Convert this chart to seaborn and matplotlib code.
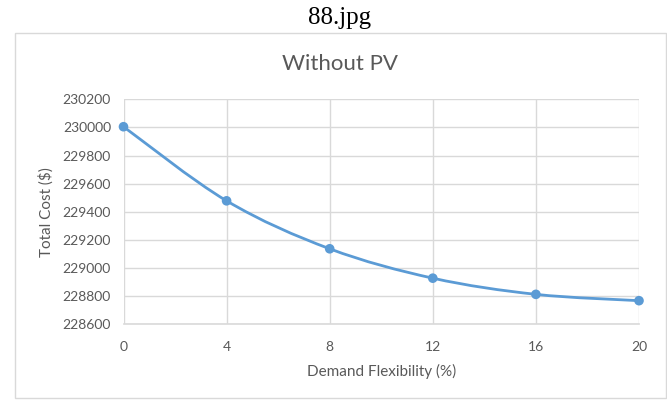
import numpy as np
import pandas as pd
import seaborn as sns
import matplotlib
matplotlib.use("Agg")
import matplotlib.pyplot as plt
from matplotlib.path import Path
from matplotlib.patches import PathPatch, Rectangle

# ---- data ----
flexibility = [0, 4, 8, 12, 16, 20]
total_cost = [230005, 229478, 229137, 228928, 228813, 228768]
y_ticks = [228600, 228800, 229000, 229200, 229400, 229600, 229800, 230000, 230200]
x_ticks = [0, 4, 8, 12, 16, 20]
file_title = "88.jpg"
chart_title = "Without PV"
x_label = "Demand Flexibility (%)"
y_label = "Total Cost ($)"

df = pd.DataFrame({"x": flexibility, "y": total_cost})

sns.set_theme(style="white")
plt.rcParams["font.family"] = ["Lato", "DejaVu Sans"]

W, H = 667, 401
fig = plt.figure(figsize=(W / 100, H / 100), dpi=100)
fig.patch.set_facecolor("white")

# outer chart frame
fig.patches.append(Rectangle((15 / W, 1 - 398 / H), (666 - 15) / W, (398 - 33) / H,
                             transform=fig.transFigure, fill=False,
                             edgecolor="#D9D9D9", linewidth=1.0))
fig.text(340 / W, 1 - 18 / H, file_title, ha="center", va="center",
         fontsize=18, family=["Liberation Serif", "DejaVu Serif"], color="black")
fig.text(340 / W, 1 - 64 / H, chart_title, ha="center", va="center",
         fontsize=16, color="#595959")

left, right, top, bottom = 123.5, 639, 99.3, 324.3
ax = fig.add_axes([left / W, 1 - bottom / H, (right - left) / W, (bottom - top) / H])

line_color = "#5B9BD5"
grey = "#595959"
grid_c = "#D9D9D9"

# smoothed connecting line (Catmull-Rom style bezier, like Excel's smoothed line)
xs = np.array(df["x"], dtype=float)
ys = np.array(df["y"], dtype=float)
n = len(xs)
verts = [(xs[0], ys[0])]
codes = [Path.MOVETO]
for i in range(n - 1):
    p0 = np.array([xs[max(i - 1, 0)], ys[max(i - 1, 0)]])
    p1 = np.array([xs[i], ys[i]])
    p2 = np.array([xs[i + 1], ys[i + 1]])
    p3 = np.array([xs[min(i + 2, n - 1)], ys[min(i + 2, n - 1)]])
    c1 = p1 + (p2 - p0) / 6.0
    c2 = p2 - (p3 - p1) / 6.0
    verts += [tuple(c1), tuple(c2), tuple(p2)]
    codes += [Path.CURVE4] * 3
ax.add_patch(PathPatch(Path(verts, codes), facecolor="none", edgecolor=line_color,
                       linewidth=2.0, capstyle="round", joinstyle="round", zorder=3))

sns.scatterplot(data=df, x="x", y="y", ax=ax, color=line_color, s=48,
                edgecolor="none", zorder=4, clip_on=False)

ax.set_xlim(0, 20)
ax.set_ylim(228600, 230200)
ax.set_xticks(x_ticks)
ax.set_yticks(y_ticks)
ax.set_xticklabels([str(v) for v in x_ticks])
ax.set_yticklabels([str(v) for v in y_ticks])
ax.grid(True, color=grid_c, linewidth=1.0)
ax.set_axisbelow(True)
for s in ["top", "right", "left"]:
    ax.spines[s].set_visible(False)
ax.spines["bottom"].set_color(grid_c)
ax.spines["bottom"].set_linewidth(1.2)
ax.tick_params(axis="both", length=0, labelsize=10, labelcolor=grey)
ax.tick_params(axis="x", pad=12)
ax.tick_params(axis="y", pad=9)

ax.set_xlabel(x_label, fontsize=11, color=grey)
ax.set_ylabel(y_label, fontsize=11, color=grey)
ax.xaxis.set_label_coords(0.5, -0.175)
ax.yaxis.set_label_coords(-0.135, 0.5)

fig.savefig("out.png", dpi=100, facecolor="white")
